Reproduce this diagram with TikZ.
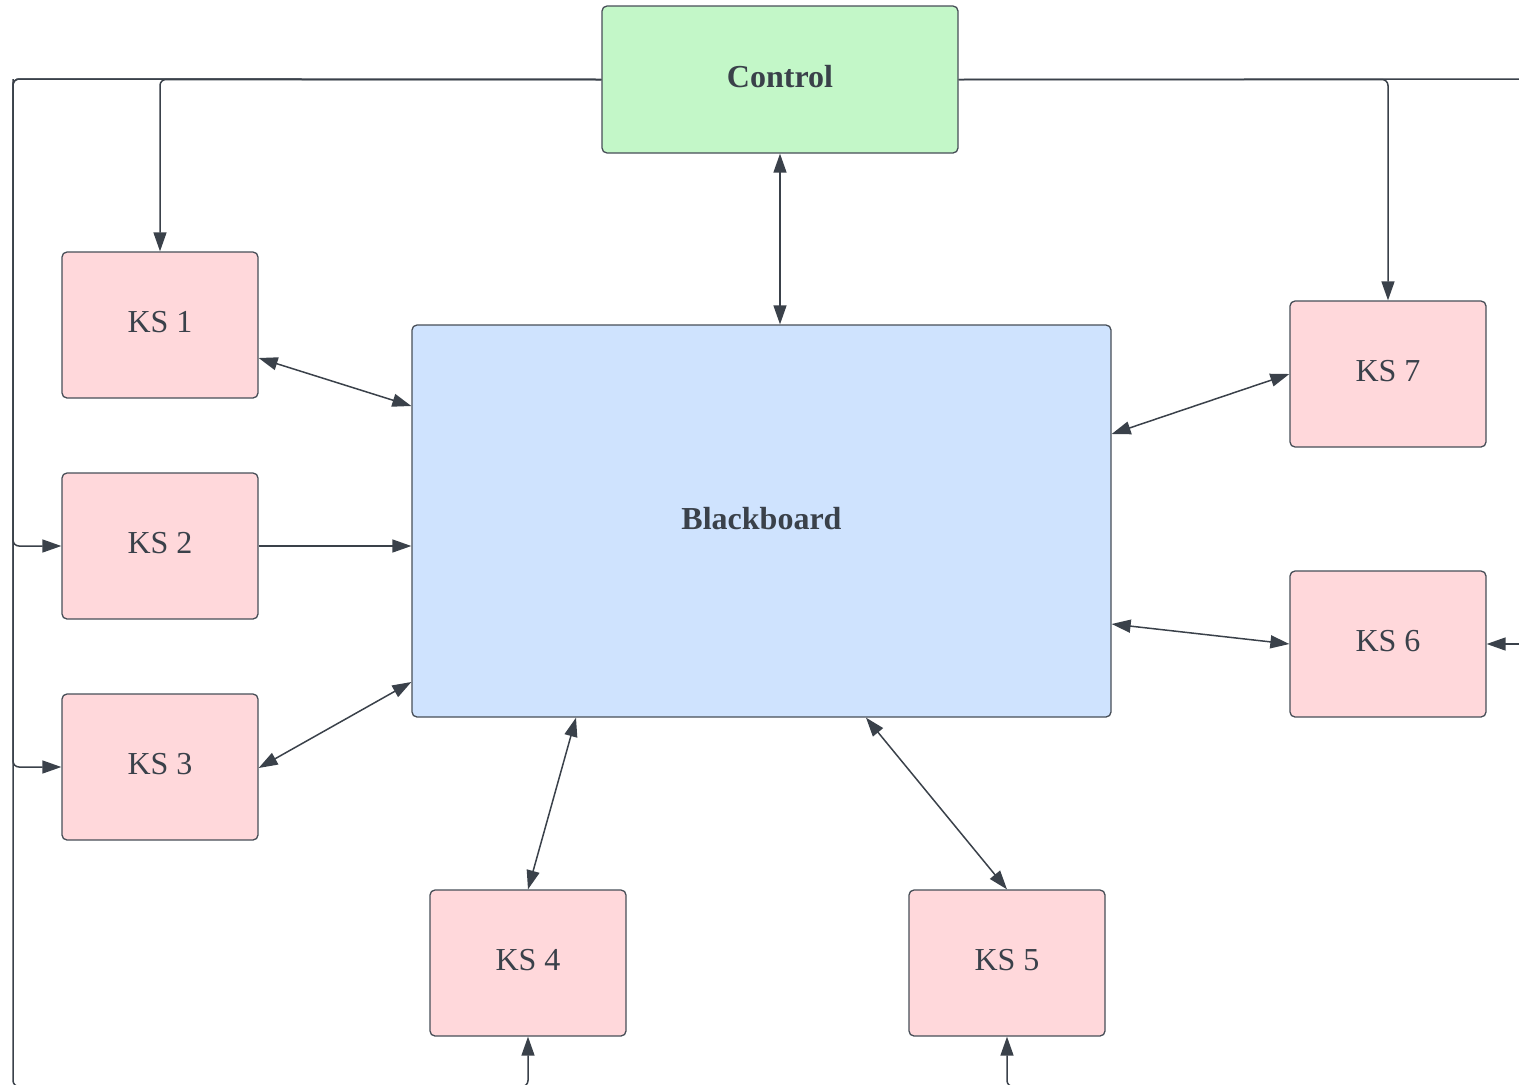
\documentclass[tikz,border=0pt]{standalone}
\usepackage{fontspec}
\setmainfont{Liberation Serif}
\usetikzlibrary{arrows.meta}
\definecolor{ink}{HTML}{3A414A}
\definecolor{edgec}{HTML}{474E57}
\definecolor{ksfill}{HTML}{FFD8DB}
\definecolor{bbfill}{HTML}{CFE3FE}
\definecolor{ctlfill}{HTML}{C3F7C8}
\begin{document}
\begin{tikzpicture}[x=1pt,y=-1pt,
  box/.style={draw=edgec, line width=1.3pt, rounded corners=5pt, inner sep=0pt,
    text depth=6pt, font=\fontsize{32}{38}\selectfont, text=ink},
  ks/.style={box, fill=ksfill, minimum width=196pt, minimum height=146pt},
  link/.style={draw=ink, line width=1.5pt, rounded corners=6pt},
  tip/.style={-{Triangle[length=19pt,width=13pt]}},
  tips/.style={{Triangle[length=19pt,width=13pt]}-{Triangle[length=19pt,width=13pt]}}]
\useasboundingbox (0,0) rectangle (1519,1085);

% components
\node[box, fill=ctlfill, minimum width=356pt, minimum height=147pt, font=\fontsize{32}{38}\selectfont\bfseries] (ctl) at (780,79.5) {Control};
\node[box, fill=bbfill, minimum width=699pt, minimum height=392pt, font=\fontsize{32}{38}\selectfont\bfseries] (bb) at (761.5,521) {Blackboard};
\node[ks] (ks1) at (160,325) {KS 1};
\node[ks] (ks2) at (160,546) {KS 2};
\node[ks] (ks3) at (160,767) {KS 3};
\node[ks] (ks4) at (528,963) {KS 4};
\node[ks] (ks5) at (1007,963) {KS 5};
\node[ks] (ks6) at (1388,644) {KS 6};
\node[ks] (ks7) at (1388,374) {KS 7};

% bus corners
\coordinate (lt) at (13,79);
\coordinate (lb) at (13,1086.5);
\coordinate (rt) at (1519,79);
\coordinate (r6) at (1519,644);
\coordinate (rb) at (1519,1086.5);

% control bus
\draw[link,tip] (ctl.west) -| (ks1.north);
\draw[link,tip] (ctl.west) -- (lt) |- (ks2.west);
\draw[link,tip] (lt) |- (ks3.west);
\draw[link,tip] (ctl.west) -- (lt) -- (lb) -| (ks4.south);
\draw[link] (ctl.east) -- (rt);
\draw[link,tip] (ctl.east) -| (ks7.north);
\draw[link,tip] (r6) -- (ks6.east);
\draw[link,tip] (rb) -| (ks5.south);

% blackboard access
\draw[link,tips] (ctl.south) -- (ctl.south |- bb.north);
\draw[link,tips] ([yshift=-33pt]ks1.east) -- ([yshift=115pt]bb.west);
\draw[link,tip] (ks2.east) -- (ks2.east -| bb.west);
\draw[link,tips] ([yshift=-1pt]ks3.east) -- ([yshift=-161pt]bb.west);
\draw[link,tips] (ks4.north) -- ([xshift=-185.5pt]bb.south);
\draw[link,tips] (ks5.north) -- ([xshift=104.5pt]bb.south);
\draw[link,tips] (ks6.west) -- ([yshift=-103pt]bb.east);
\draw[link,tips] (ks7.west) -- ([yshift=87pt]bb.east);
\end{tikzpicture}
\end{document}
